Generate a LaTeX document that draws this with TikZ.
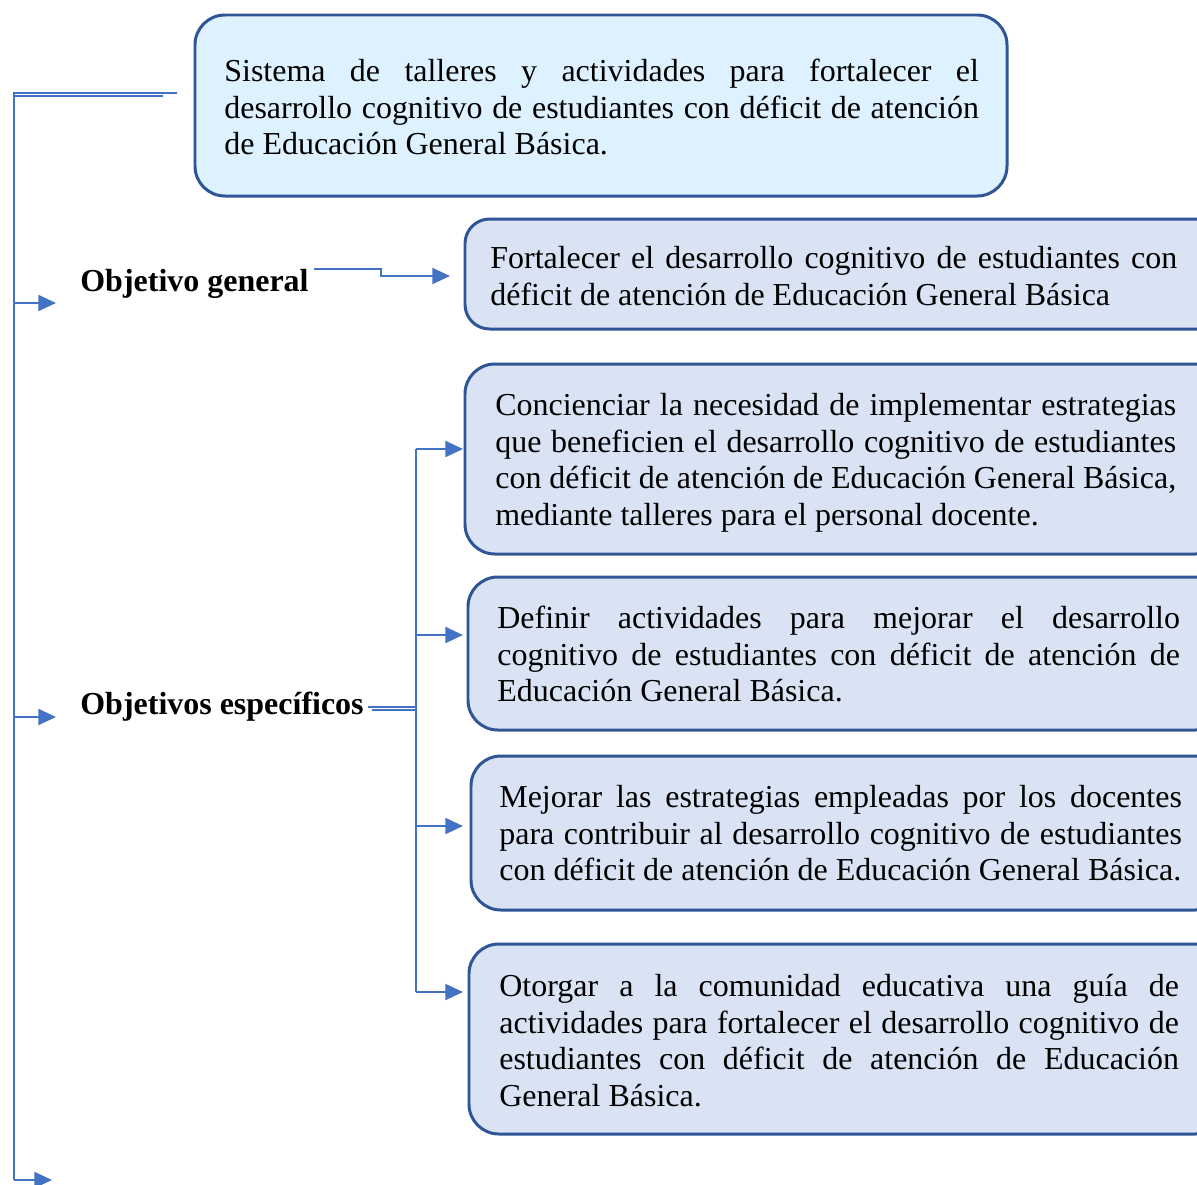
\documentclass[tikz,border=0pt]{standalone}
\usepackage{fontspec}
\setmainfont{Liberation Serif}
\usetikzlibrary{fit,arrows.meta}
\definecolor{bord}{HTML}{2F5597}
\definecolor{conn}{HTML}{4472C4}
\definecolor{fillA}{HTML}{DEF1FF}
\definecolor{fillB}{HTML}{DAE3F3}
\tikzset{
  boxA/.style={draw=bord, line width=1.7pt, fill=fillA, rounded corners=17pt, inner sep=0pt},
  boxB/.style={draw=bord, line width=1.7pt, fill=fillB, rounded corners=14pt, inner sep=0pt},
  txt/.style={anchor=north west, inner sep=0pt, align=justify, font=\fontsize{18.2pt}{20.8pt}\selectfont},
  lbl/.style={anchor=base west, inner sep=0pt, font=\fontsize{18.2pt}{20.8pt}\selectfont\bfseries},
  cn/.style={draw=conn, line width=1.35pt},
  arr/.style={-{Triangle[length=10pt,width=9pt]}},
}
\begin{document}
\begin{tikzpicture}[x=0.02cm,y=-0.02cm]
\clip (0,0) rectangle (1197,1184);
\fill[white] (0,0) rectangle (1197,1184);
% boxes
\node[boxA, fit={(195,15) (1007,196)}] (b1) {};
\node[boxB, fit={(465,219) (1225,329)}] (b2) {};
\node[boxB, fit={(465,364) (1225,554)}, rounded corners=17pt] (b3) {};
\node[boxB, fit={(468,577) (1225,730)}, rounded corners=17pt] (b4) {};
\node[boxB, fit={(471,756) (1225,910)}, rounded corners=17pt] (b5) {};
\node[boxB, fit={(469,944) (1225,1134)}, rounded corners=17pt] (b6) {};
% texts
\node[txt, text width=429.5pt] (t1) at (224,59) {Sistema de talleres y actividades para fortalecer el\linebreak desarrollo cognitivo de estudiantes con déficit de atención\linebreak de Educación General Básica.};
\node[txt, text width=391pt] (t2) at (490,246) {Fortalecer el desarrollo cognitivo de estudiantes con\linebreak déficit de atención de Educación General Básica};
\node[txt, text width=387.5pt] (t3) at (495,393) {Concienciar la necesidad de implementar estrategias\linebreak que beneficien el desarrollo cognitivo de estudiantes\linebreak con déficit de atención de Educación General Básica,\linebreak mediante talleres para el personal docente.};
\node[txt, text width=388.5pt] (t4) at (497,606) {Definir actividades para mejorar el desarrollo\linebreak cognitivo de estudiantes con déficit de atención de\linebreak Educación General Básica.};
\node[txt, text width=388.5pt] (t5) at (499,785) {Mejorar las estrategias empleadas por los docentes\linebreak para contribuir al desarrollo cognitivo de estudiantes\linebreak con déficit de atención de Educación General Básica.};
\node[txt, text width=386.8pt] (t6) at (499,974) {Otorgar a la comunidad educativa una guía de\linebreak actividades para fortalecer el desarrollo cognitivo de\linebreak estudiantes con déficit de atención de Educación\linebreak General Básica.};
% labels
\node[lbl] (og) at (80,291) {Objetivo general};
\node[lbl] (oe) at (80,714) {Objetivos específicos};
% coordinates
\coordinate (a0) at (177,93);
\coordinate (a0b) at (163,96);
\coordinate (a1) at (14,93);
\coordinate (a1b) at (14,96);
\coordinate (a2) at (14,1180);
\coordinate (p1) at (14,303); \coordinate (q1) at (56,303);
\coordinate (p2) at (14,717); \coordinate (q2) at (56,717);
\coordinate (q3) at (52,1180);
\coordinate (g1) at (314,269); \coordinate (g2) at (381,269);
\coordinate (g3) at (381,276); \coordinate (g4) at (450,276);
\coordinate (e1) at (368,707); \coordinate (e1b) at (372,710);
\coordinate (e2) at (416,707); \coordinate (e2b) at (416,710);
\coordinate (v0) at (416,449); \coordinate (v3) at (416,992);
\coordinate (v1) at (416,635); \coordinate (v2) at (416,826);
\coordinate (w0) at (463,449); \coordinate (w1) at (463,635);
\coordinate (w2) at (463,826); \coordinate (w3) at (463,992);
% connectors
\draw[cn] (a0) -- (a1) -- (a2);
\draw[cn] (a0b) -- (a1b);
\draw[cn,arr] (p1) -- (q1);
\draw[cn,arr] (p2) -- (q2);
\draw[cn,arr] (a2) -- (q3);
\draw[cn,arr] (g1) -- (g2) -- (g3) -- (g4);
\draw[cn] (e1) -- (e2);
\draw[cn] (e1b) -- (e2b);
\draw[cn] (v0) -- (v3);
\draw[cn,arr] (v0) -- (w0);
\draw[cn,arr] (v1) -- (w1);
\draw[cn,arr] (v2) -- (w2);
\draw[cn,arr] (v3) -- (w3);
\end{tikzpicture}
\end{document}
